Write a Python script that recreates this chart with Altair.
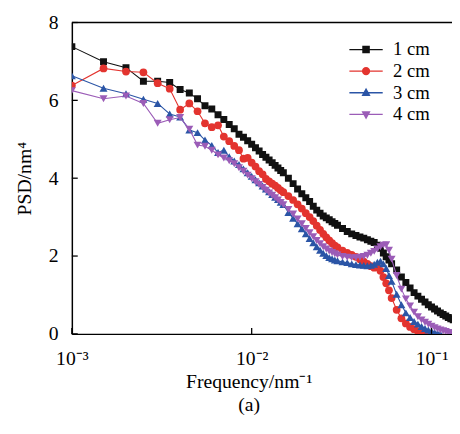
import altair as alt
import pandas as pd

# Frequencies (nm^-1) at which the PSD points are plotted
freq = [
    0.0010, 0.0015, 0.0020, 0.0025, 0.0030, 0.0035, 0.0040, 0.0045, 0.0050, 0.0055,
    0.0060, 0.0065, 0.0070, 0.0075, 0.0080, 0.0085, 0.0090, 0.0095, 0.0100, 0.0105,
    0.0110, 0.0115, 0.0120, 0.0125, 0.0130, 0.0135, 0.0140, 0.0145, 0.0150,
    0.016, 0.017, 0.018, 0.019, 0.020, 0.021, 0.022, 0.023, 0.024, 0.025,
    0.026, 0.027, 0.028, 0.029, 0.030,
    0.032, 0.034, 0.036, 0.038, 0.040, 0.042, 0.044, 0.046, 0.048, 0.050,
    0.052, 0.054, 0.056, 0.058, 0.060,
    0.064, 0.068, 0.072, 0.076, 0.080, 0.084, 0.088, 0.092, 0.096, 0.100,
    0.104, 0.108, 0.112, 0.116, 0.120, 0.124, 0.128, 0.132,
]

psd_1cm = [
    7.38, 6.99, 6.84, 6.49, 6.49, 6.46, 6.28, 6.19, 6.04, 5.86,
    5.78, 5.63, 5.51, 5.38, 5.27, 5.13, 5.05, 4.96, 4.87, 4.78,
    4.70, 4.61, 4.54, 4.47, 4.40, 4.33, 4.26, 4.20, 4.14,
    4.00, 3.86, 3.72, 3.60, 3.50, 3.40, 3.28, 3.18, 3.10, 3.03,
    2.98, 2.93, 2.88, 2.84, 2.79,
    2.71, 2.63, 2.57, 2.53, 2.49, 2.46, 2.42, 2.38, 2.35, 2.28,
    2.20, 2.08, 1.98, 1.90, 1.80,
    1.64, 1.46, 1.32, 1.18, 1.06, 0.97, 0.89, 0.82, 0.75, 0.69,
    0.64, 0.59, 0.54, 0.50, 0.46, 0.42, 0.39, 0.36,
]

psd_2cm = [
    6.38, 6.82, 6.74, 6.72, 6.44, 6.30, 5.76, 5.92, 5.72, 5.41,
    5.31, 5.36, 5.07, 4.95, 4.83, 4.72, 4.50, 4.52, 4.40, 4.30,
    4.18, 4.10, 3.98, 3.92, 3.86, 3.81, 3.75, 3.69, 3.64,
    3.54, 3.44, 3.33, 3.22, 3.10, 3.00, 2.90, 2.78, 2.67, 2.57,
    2.48, 2.40, 2.33, 2.27, 2.22,
    2.14, 2.08, 2.03, 1.98, 1.92, 1.86, 1.80, 1.74, 1.70, 1.71,
    1.62, 1.46, 1.30, 1.12, 0.92,
    0.62, 0.40, 0.27, 0.18, 0.12, 0.07, 0.04, 0.02, 0.00,
]

psd_3cm = [
    6.63, 6.31, 6.17, 6.03, 5.92, 5.65, 5.57, 5.24, 5.17, 4.98,
    4.84, 4.66, 4.72, 4.55, 4.44, 4.35, 4.24, 4.14, 4.05, 3.96,
    3.88, 3.80, 3.72, 3.65, 3.58, 3.51, 3.45, 3.38, 3.32,
    3.12, 2.97, 2.83, 2.70, 2.57, 2.45, 2.34, 2.24, 2.15, 2.07,
    2.01, 1.96, 1.93, 1.90, 1.88,
    1.85, 1.83, 1.80, 1.78, 1.77, 1.76, 1.75, 1.76, 1.79, 1.84,
    1.87, 1.80, 1.68, 1.50, 1.35,
    1.02, 0.75, 0.54, 0.42, 0.32, 0.25, 0.19, 0.14, 0.10, 0.07,
    0.04, 0.02, 0.00,
]

psd_4cm = [
    6.25, 6.04, 6.11, 5.92, 5.41, 5.50, 5.56, 5.26, 4.85, 4.82,
    4.72, 4.60, 4.52, 4.45, 4.37, 4.27, 4.18, 4.08, 3.99, 3.91,
    3.84, 3.76, 3.69, 3.62, 3.56, 3.50, 3.44, 3.38, 3.32,
    3.20, 3.08, 2.95, 2.83, 2.71, 2.60, 2.50, 2.40, 2.32, 2.24,
    2.18, 2.13, 2.09, 2.06, 2.03,
    1.99, 1.97, 1.96, 1.96, 1.97, 1.99, 2.02, 2.07, 2.12, 2.18,
    2.24, 2.28, 2.29, 2.15, 1.92,
    1.50, 1.15, 0.90, 0.72, 0.56, 0.44, 0.36, 0.30, 0.25, 0.20,
    0.16, 0.13, 0.10, 0.08, 0.06, 0.04, 0.03, 0.02,
]

series_names = ["1 cm", "2 cm", "3 cm", "4 cm"]
series_values = [psd_1cm, psd_2cm, psd_3cm, psd_4cm]
series_colors = ["#111111", "#e3342f", "#2b55a6", "#9b5cb7"]
series_shapes = ["square", "circle", "triangle-up", "triangle-down"]
marker_sizes = [50, 62, 66, 66]

x_tick_values = [0.001, 0.01, 0.1]
y_tick_values = [0, 2, 4, 6, 8]

# legend symbols: a line with the marker on it (concentric rings give a solid marker)
legend_paths = [
    "M-5.3,0H5.3M-1,-1H1V1H-1ZM-0.65,-0.65H0.65V0.65H-0.65ZM-0.3,-0.3H0.3V0.3H-0.3Z",
    "M-5.3,0H5.3M-1.1,0A1.1,1.1 0 1,1 1.1,0A1.1,1.1 0 1,1 -1.1,0ZM-0.7,0A0.7,0.7 0 1,1 0.7,0A0.7,0.7 0 1,1 -0.7,0ZM-0.3,0A0.3,0.3 0 1,1 0.3,0A0.3,0.3 0 1,1 -0.3,0Z",
    "M-5.3,0H5.3M0,-1.2L1.1,0.8H-1.1ZM0,-0.6L0.55,0.4H-0.55Z",
    "M-5.3,0H5.3M0,1.2L1.1,-0.8H-1.1ZM0,0.6L0.55,-0.4H-0.55Z",
]

rows = []
for name, vals in zip(series_names, series_values):
    for f, v in zip(freq, vals):
        rows.append({"f": f, "psd": v, "series": name})
df = pd.DataFrame(rows)

W, H = 387, 317
FONT = "Liberation Serif"

x_scale = alt.Scale(type="log", domain=[0.001, 0.13], nice=False)
y_scale = alt.Scale(domain=[0, 8], nice=False)

X = alt.X(
    "f:Q",
    scale=x_scale,
    axis=alt.Axis(
        values=x_tick_values,
        labelExpr="datum.value < 0.005 ? '10\u207b\u00b3' : (datum.value < 0.05 ? '10\u207b\u00b2' : '10\u207b\u00b9')",
        title=["Frequency/nm\u207b\u00b9", "(a)"],
        titleLineHeight=23,
        titleX=180,
        titlePadding=4,
        labelPadding=15,
        grid=False,
        ticks=False,
        tickSize=0,
        labelFlush=False,
    ),
)
Y = alt.Y(
    "psd:Q",
    scale=y_scale,
    axis=alt.Axis(
        values=y_tick_values,
        title="PSD/nm\u2074",
        grid=False,
        ticks=False,
        tickSize=0,
        labelPadding=14,
        titlePadding=14,
    ),
)

layers = []
for name, col, shp, sz in zip(series_names, series_colors, series_shapes, marker_sizes):
    sub = alt.Chart(df).transform_filter(alt.datum.series == name)
    layers.append(sub.mark_line(color=col, strokeWidth=1.1, clip=True).encode(x=X, y=Y))
    layers.append(
        sub.mark_point(shape=shp, filled=True, color=col, size=sz, opacity=1, clip=True).encode(x=X, y=Y)
    )

legend_props = dict(
    orient="none", legendX=277, legendY=18, title=None,
    labelFont=FONT, labelFontSize=19, labelColor="black",
    symbolSize=41, symbolStrokeWidth=1.3, symbolOpacity=1,
    symbolOffset=13, labelOffset=18, rowPadding=2, padding=0,
)

legend_layer = alt.Chart(df).mark_point(filled=False, opacity=0, size=41, clip=True).encode(
    x=X,
    y=Y,
    color=alt.Color(
        "series:N",
        scale=alt.Scale(domain=series_names, range=series_colors),
        legend=alt.Legend(**legend_props),
    ),
    shape=alt.Shape(
        "series:N",
        scale=alt.Scale(domain=series_names, range=legend_paths),
        legend=alt.Legend(**legend_props),
    ),
)

xtick_df = pd.DataFrame({"f": x_tick_values})
ytick_df = pd.DataFrame({"psd": y_tick_values})
xticks = alt.Chart(xtick_df).mark_rule(color="black", strokeWidth=1.3).encode(
    x=X, y=alt.value(H), y2=alt.value(H - 6)
)
yticks = alt.Chart(ytick_df).mark_rule(color="black", strokeWidth=1.3).encode(
    y=Y, x=alt.value(0), x2=alt.value(6)
)
top_border = alt.Chart(pd.DataFrame({"a": [0]})).mark_rule(color="black", strokeWidth=1.5).encode(
    x=alt.value(0), x2=alt.value(W), y=alt.value(0)
)

chart = alt.layer(*layers, legend_layer, xticks, yticks, top_border).properties(
    width=W,
    height=H,
    autosize=alt.AutoSizeParams(type="none"),
    padding={"left": 65, "top": 11, "right": 0, "bottom": 90},
).configure_view(stroke="transparent").configure_axis(
    domainColor="black",
    domainWidth=1.5,
    labelColor="black",
    titleColor="black",
    labelFont=FONT,
    titleFont=FONT,
    labelFontSize=20,
    titleFontSize=20,
    titleFontWeight="normal",
)

chart.save("out.html", embed_options={"renderer": "svg", "actions": False})
